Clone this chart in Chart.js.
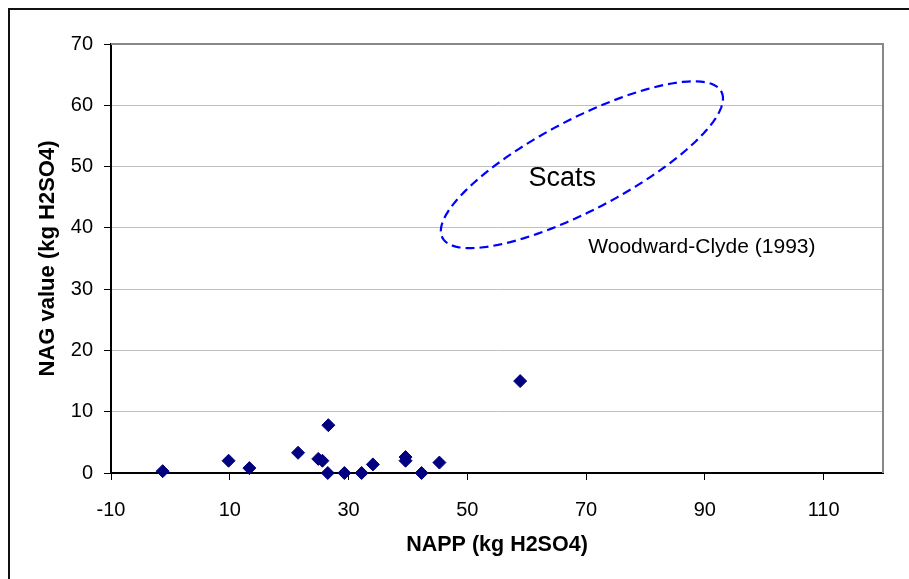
<!DOCTYPE html>
<html>
<head>
<meta charset="utf-8">
<script src="https://cdn.jsdelivr.net/npm/chart.js@4.4.1/dist/chart.umd.min.js"></script>
<style>
  html, body { margin: 0; padding: 0; background: #fff; }
  #wrap { width: 909px; height: 579px; }
</style>
</head>
<body>
<div id="wrap"><canvas id="nagChart" width="909" height="579"></canvas></div>
<script>
// NAPP vs NAG values
const nappValues = [-1.3, 9.8, 13.3, 21.5, 24.9, 25.6, 26.6, 26.5, 29.3, 32.2, 34.1, 39.6, 39.6, 42.3, 45.3, 58.9];
const nagValues  = [0.3, 2.0, 0.8, 3.3, 2.3, 2.0, 7.8, 0.0, 0.0, 0.0, 1.4, 2.6, 2.0, 0.0, 1.7, 15.0];
const xTicks = [-10, 10, 30, 50, 70, 90, 110];
const yTicks = [0, 10, 20, 30, 40, 50, 60, 70];
const noteTexts = ['Scats', 'Woodward-Clyde (1993)'];

// annotation geometry, in data units
const ellipseCenter = [69.3, 50.3];
const ellipseMajor = [23.5, 11.9];
const ellipseMinor = [3.5, -6.6];
const notePositions = [[66.0, 48.0], [89.5, 36.9]];

const fontFamily = "'Liberation Sans', Arial, sans-serif";

const decorPlugin = {
    id: 'decor',
    afterDraw: function (chart) {
        var ctx = chart.ctx;
        var area = chart.chartArea;
        var xs = chart.scales.x;
        var ys = chart.scales.y;
        ctx.save();

        // plot area frame (top + right, grey)
        ctx.strokeStyle = '#888888';
        ctx.lineWidth = 2;
        ctx.beginPath();
        ctx.moveTo(area.left, area.top);
        ctx.lineTo(area.right, area.top);
        ctx.lineTo(area.right, area.bottom);
        ctx.stroke();

        // outer chart frame
        ctx.strokeStyle = '#111111';
        ctx.lineWidth = 2;
        ctx.beginPath();
        ctx.moveTo(9, 579);
        ctx.lineTo(9, 9);
        ctx.lineTo(909, 9);
        ctx.stroke();

        // dashed ellipse
        ctx.strokeStyle = '#0000FF';
        ctx.lineWidth = 2.2;
        ctx.setLineDash([9, 5]);
        ctx.beginPath();
        for (var i = 0; i <= 120; i++) {
            var t = i / 120 * Math.PI * 2;
            var dx = ellipseCenter[0] + Math.cos(t) * ellipseMajor[0] + Math.sin(t) * ellipseMinor[0];
            var dy = ellipseCenter[1] + Math.cos(t) * ellipseMajor[1] + Math.sin(t) * ellipseMinor[1];
            var px = xs.getPixelForValue(dx);
            var py = ys.getPixelForValue(dy);
            if (i === 0) ctx.moveTo(px, py); else ctx.lineTo(px, py);
        }
        ctx.closePath();
        ctx.stroke();
        ctx.setLineDash([]);

        // notes
        ctx.fillStyle = '#000';
        ctx.textAlign = 'center';
        ctx.textBaseline = 'middle';
        ctx.font = '27px ' + fontFamily;
        ctx.fillText(noteTexts[0], xs.getPixelForValue(notePositions[0][0]), ys.getPixelForValue(notePositions[0][1]));
        ctx.font = '21px ' + fontFamily;
        ctx.fillText(noteTexts[1], xs.getPixelForValue(notePositions[1][0]), ys.getPixelForValue(notePositions[1][1]));
        ctx.restore();
    }
};

const ctx = document.getElementById('nagChart').getContext('2d');
new Chart(ctx, {
    type: 'scatter',
    data: {
        datasets: [{
            label: 'NAG',
            data: nappValues.map(function (v, i) { return { x: v, y: nagValues[i] }; }),
            pointStyle: 'rectRot',
            pointRadius: 6.5,
            pointHoverRadius: 6.5,
            backgroundColor: '#000080',
            borderColor: '#000080',
            borderWidth: 1,
            clip: false
        }]
    },
    options: {
        responsive: false,
        animation: false,
        events: [],
        layout: { padding: { left: 0, top: 44, right: 26, bottom: 0 } },
        plugins: {
            legend: { display: false },
            tooltip: { enabled: false }
        },
        scales: {
            x: {
                type: 'linear',
                min: -10,
                max: 120,
                afterBuildTicks: function (scale) {
                    scale.ticks = xTicks.map(function (v) { return { value: v }; });
                },
                afterFit: function (scale) { scale.height = 106; },
                grid: {
                    drawOnChartArea: false,
                    drawTicks: true,
                    tickLength: 7,
                    tickColor: '#000',
                    tickWidth: 1
                },
                border: { color: '#000', width: 2 },
                ticks: {
                    color: '#000',
                    padding: 18,
                    maxRotation: 0,
                    font: { family: fontFamily, size: 20 }
                },
                title: {
                    display: true,
                    text: 'NAPP (kg H2SO4)',
                    color: '#000',
                    font: { family: fontFamily, size: 21.5, weight: 'bold' },
                    padding: { top: 0, bottom: 21 }
                }
            },
            y: {
                type: 'linear',
                min: 0,
                max: 70,
                afterBuildTicks: function (scale) {
                    scale.ticks = yTicks.map(function (v) { return { value: v }; });
                },
                afterFit: function (scale) { scale.width = 111; },
                grid: {
                    color: '#c0c0c0',
                    lineWidth: 1,
                    drawTicks: true,
                    tickLength: 7,
                    tickColor: '#000',
                    tickWidth: 1
                },
                border: { color: '#000', width: 2 },
                ticks: {
                    color: '#000',
                    padding: 11,
                    font: { family: fontFamily, size: 20 }
                },
                title: {
                    display: true,
                    text: 'NAG value (kg H2SO4)',
                    color: '#000',
                    font: { family: fontFamily, size: 22, weight: 'bold' },
                    padding: { top: 35, bottom: 0 }
                }
            }
        }
    },
    plugins: [decorPlugin]
});
</script>
</body>
</html>
